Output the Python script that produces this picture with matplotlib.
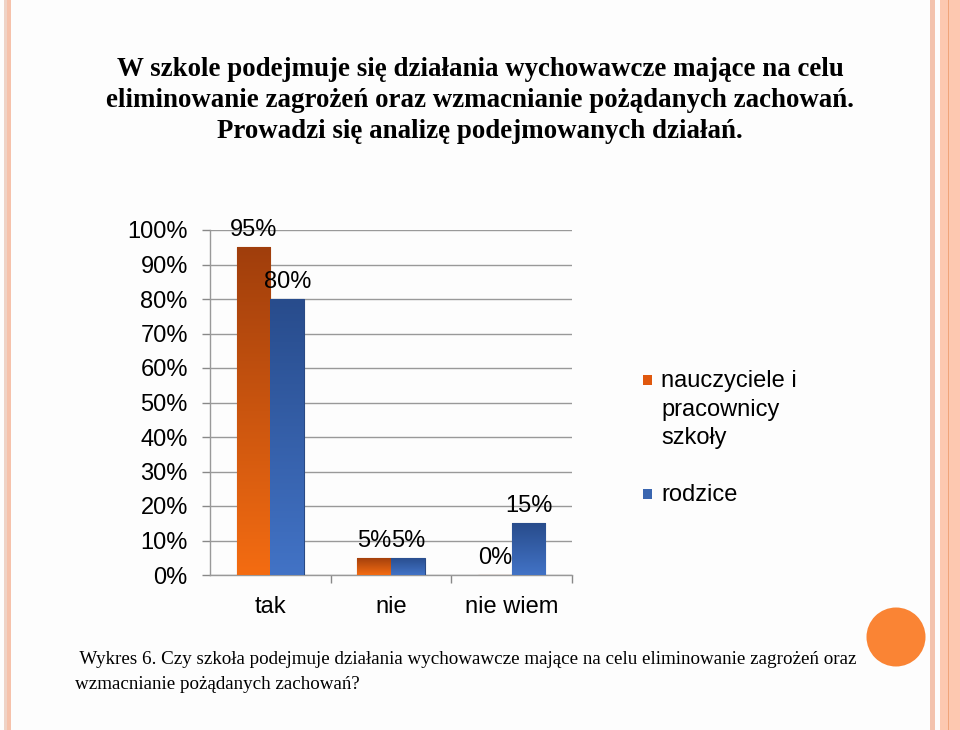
import numpy as np
import matplotlib
matplotlib.use('Agg')
import matplotlib.pyplot as plt
from matplotlib.patches import Rectangle, Ellipse
from matplotlib.colors import LinearSegmentedColormap

# data
categories = ['tak', 'nie', 'nie wiem']
series_names = ['nauczyciele i\npracownicy\nszkoły', 'rodzice']
teachers = [0.95, 0.05, 0.00]
parents = [0.80, 0.05, 0.15]
yticks = [0.0, 0.1, 0.2, 0.3, 0.4, 0.5, 0.6, 0.7, 0.8, 0.9, 1.0]

title = ("W szkole podejmuje się działania wychowawcze mające na celu\n"
         "eliminowanie zagrożeń oraz wzmacnianie pożądanych zachowań.\n"
         "Prowadzi się analizę podejmowanych działań.")
caption = (" Wykres 6. Czy szkoła podejmuje działania wychowawcze mające na celu "
           "eliminowanie zagrożeń oraz\nwzmacnianie pożądanych zachowań?")

W, H = 960, 730
sans = 'Liberation Sans'
serif = 'Liberation Serif'

fig = plt.figure(figsize=(W / 100, H / 100), dpi=100, facecolor='#fdfdfd')


def fx(px):
    return px / W


def fy(py):
    return 1 - py / H


# side stripes of the slide
for x0, x1, c in [(4, 6.5, '#efd3c6'), (7, 10.5, '#f6c2ab'),
                  (930, 934.5, '#f3c3ae'), (940, 960, '#fdc8b0'),
                  (947.5, 949, '#f0a47a')]:
    fig.patches.append(Rectangle((fx(x0), 0), fx(x1) - fx(x0), 1,
                                 transform=fig.transFigure, color=c, lw=0, zorder=0))

# orange circle
fig.patches.append(Ellipse((fx(896), fy(637)), fx(59), 59 / H, transform=fig.transFigure,
                           color='#fa8434', lw=0, zorder=1))

fig.text(0.5, fy(57), title, ha='center', va='top', fontsize=19.4,
         fontweight='bold', family=serif, linespacing=1.32, color='black')

ax = fig.add_axes([fx(210), fy(575), fx(572) - fx(210), (575 - 230) / H])
ax.set_facecolor('none')

x = np.arange(len(categories))
w = 0.28
orange_grad = ['#f46c12', '#a03e0c']
blue_grad = ['#4273c6', '#284c8c']

b1 = ax.bar(x - w / 2, teachers, w, color='#e85e10', edgecolor='#a8460f', lw=0.8, zorder=3)
b2 = ax.bar(x + w / 2, parents, w, color='#3a66b4', edgecolor='#2a4a84', lw=0.8, zorder=3)


def shade(patches, cols):
    cmap = LinearSegmentedColormap.from_list('g', cols)
    grad = np.linspace(0, 1, 256).reshape(-1, 1)
    for p in patches:
        h = p.get_height()
        if h <= 0:
            continue
        x0, y0 = p.get_xy()
        im = ax.imshow(grad, extent=[x0, x0 + p.get_width(), y0, y0 + h],
                       origin='lower', cmap=cmap, aspect='auto', zorder=3.5)
        im.set_clip_path(p)


shade(b1, orange_grad)
shade(b2, blue_grad)

for bars, vals in [(b1, teachers), (b2, parents)]:
    for p, v in zip(bars, vals):
        ax.annotate(f'{v * 100:.0f}%', (p.get_x() + p.get_width() / 2, v),
                    xytext=(0, 8), textcoords='offset points', ha='center',
                    va='baseline', fontsize=17, family=sans, zorder=5)

ax.set_xlim(-0.5, 2.5)
ax.set_ylim(0, 1)
ax.set_yticks(yticks)
ax.set_yticklabels([f'{t * 100:.0f}%' for t in yticks])
ax.set_xticks(x)
ax.set_xticklabels(categories)
ax.set_xticks([0.5, 1.5, 2.5], minor=True)
ax.tick_params(axis='x', which='major', length=0, pad=15, labelsize=17)
ax.tick_params(axis='x', which='minor', length=6, width=1, color='#888888')
ax.tick_params(axis='y', length=6, width=1, color='#888888', pad=10, labelsize=17)
for lab in ax.get_xticklabels() + ax.get_yticklabels():
    lab.set_family(sans)
ax.grid(axis='y', color='#999999', lw=1, zorder=0)
for s in ['top', 'right']:
    ax.spines[s].set_visible(False)
for s in ['left', 'bottom']:
    ax.spines[s].set_color('#999999')
    ax.spines[s].set_linewidth(1)

# legend
for ypx, col, name in [(380, '#e0580e', series_names[0]), (494, '#3a66b0', series_names[1])]:
    fig.patches.append(Rectangle((fx(643), fy(ypx + 5)), fx(9), 10 / H,
                                 transform=fig.transFigure, color=col, lw=0))
    fig.text(fx(661), fy(ypx - 10), name, ha='left', va='top', fontsize=17,
             family=sans, linespacing=1.39)

fig.text(fx(75), fy(651), caption, ha='left', va='top', fontsize=13.7,
         family=serif, linespacing=1.6)

fig.savefig('out.png', dpi=100, facecolor=fig.get_facecolor())
